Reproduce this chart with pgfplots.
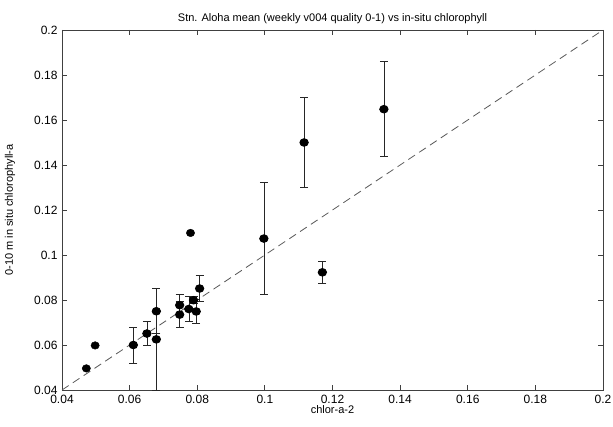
\documentclass[border=0pt]{standalone}
\usepackage{fontspec}
\setmainfont{Liberation Sans}
\usepackage{pgfplots}
\pgfplotsset{compat=1.18}

\begin{document}
\begin{tikzpicture}
% fixed page: axis box is 541 x 360, margins as in the reference
\path[use as bounding box] (-62pt,-37pt) rectangle (551pt,390pt);
\begin{axis}[
    scale only axis,
    width=541pt,
    height=360pt,
    at={(0,0)}, anchor=south west,
    xmin=0.04, xmax=0.2,
    ymin=0.04, ymax=0.2,
    xtick={0.04,0.06,...,0.2},
    ytick={0.04,0.06,...,0.2},
    xticklabels={0.04,0.06,0.08,0.1,0.12,0.14,0.16,0.18,0.2},
    yticklabels={0.04,0.06,0.08,0.1,0.12,0.14,0.16,0.18,0.2},
    tick align=inside,
    major tick length=5pt,
    axis line style={black!75, line width=0.8pt},
    every tick/.style={black!75, line width=0.8pt},
    tick label style={font=\fontsize{12}{14}\selectfont},
    xticklabel style={yshift=-2pt},
    yticklabel style={xshift=-1pt},
    label style={font=\fontsize{11}{13}\selectfont},
    title style={font=\fontsize{11}{13}\selectfont, yshift=-3pt},
    title={Stn. Aloha mean (weekly v004 quality 0-1) vs in-situ chlorophyll},
    xlabel={chlor-a-2},
    ylabel={0-10 m in situ chlorophyll-a},
    xlabel style={yshift=5pt},
    ylabel style={yshift=12pt},
    clip=false,
]
% 1:1 reference line
\addplot[black!65, line width=0.8pt, dash pattern=on 8pt off 5pt] coordinates {(0.04,0.04) (0.2,0.2)};

% matchups with error bars
\addplot[only marks, mark=*, mark size=3.8pt, mark options={fill=black, xscale=1.1},
    black, line width=0.9pt,
    error bars/.cd, y dir=both, y explicit,
    error bar style={black!85},
    error mark options={rotate=90, mark size=4pt, line width=0.9pt, black!85}]
    table[x=x, y=y, y error=e] {
x       y       e
0.0611  0.0600  0.0080
0.0651  0.0651  0.0055
0.0679  0.0750  0.0100
0.0679  0.0625  0.0225
0.0748  0.0777  0.0047
0.0748  0.0735  0.0058
0.0775  0.0760  0.0054
0.0789  0.0799  0.0015
0.0797  0.0749  0.0055
0.0807  0.0851  0.0056
0.0997  0.1073  0.0250
0.1116  0.1500  0.0200
0.1170  0.0923  0.0050
0.1352  0.1648  0.0210
};

% single-sample matchups
\addplot[only marks, mark=*, mark size=3.8pt, mark options={fill=black, xscale=1.1}]
    coordinates {(0.0472,0.0496) (0.0498,0.0598) (0.0780,0.1098)};
\end{axis}
\end{tikzpicture}
\end{document}
